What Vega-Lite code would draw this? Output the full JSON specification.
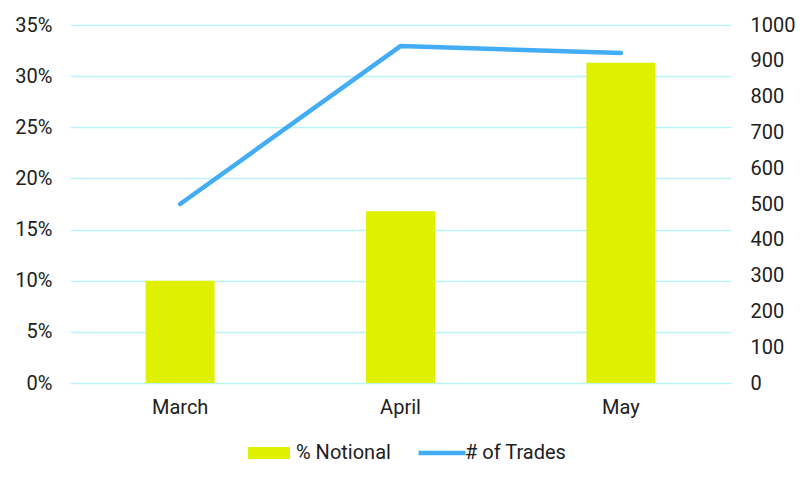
{
  "$schema": "https://vega.github.io/schema/vega-lite/v6.json",
  "width": 661,
  "height": 358,
  "autosize": {"type": "none"},
  "padding": {"left": 70, "top": 25, "right": 79, "bottom": 103},
  "background": "white",
  "config": {
    "font": "Roboto",
    "view": {"stroke": null},
    "axis": {"labelFont": "Roboto", "labelFontSize": 20, "labelColor": "#212121", "domain": false, "ticks": false, "title": null},
    "legend": {"labelFont": "Roboto", "labelFontSize": 20, "labelColor": "#212121", "padding": 0}
  },
  "data": {
    "values": [
      {"month": "March", "notional": 0.100, "trades": 500},
      {"month": "April", "notional": 0.168, "trades": 941},
      {"month": "May", "notional": 0.313, "trades": 922}
    ]
  },
  "encoding": {
    "x": {
      "field": "month", "type": "nominal", "sort": null,
      "scale": {"paddingInner": 0.687, "paddingOuter": 0.3435},
      "axis": {"labelAngle": 0, "labelPadding": 14, "grid": false}
    }
  },
  "layer": [
    {
      "mark": {"type": "bar", "color": "#dff000"},
      "encoding": {
        "y": {
          "field": "notional", "type": "quantitative",
          "scale": {"domain": [0, 0.35]},
          "axis": {"format": ".0%", "values": [0, 0.05, 0.1, 0.15, 0.2, 0.25, 0.3, 0.35], "grid": true, "gridColor": "#bdf2fa", "gridWidth": 1.5, "labelPadding": 18}
        },
        "fill": {
          "datum": "% Notional", "type": "nominal",
          "scale": {"range": ["#dff000"]},
          "legend": {"orient": "none", "legendX": 178, "legendY": 407, "title": null, "symbolType": "M-1,-0.28H1V0.28H-1Z", "symbolSize": 1764, "symbolStrokeWidth": 0, "labelOffset": 6}
        }
      }
    },
    {
      "mark": {"type": "line", "color": "#42acf5", "strokeWidth": 4.5, "strokeCap": "round", "strokeJoin": "round"},
      "encoding": {
        "y": {
          "field": "trades", "type": "quantitative",
          "scale": {"domain": [0, 1000]},
          "axis": {"orient": "right", "format": "d", "values": [0, 100, 200, 300, 400, 500, 600, 700, 800, 900, 1000], "grid": false, "labelPadding": 19}
        },
        "stroke": {
          "datum": "# of Trades", "type": "nominal",
          "scale": {"range": ["#42acf5"]},
          "legend": {"orient": "none", "legendX": 346, "legendY": 402, "title": null, "symbolType": "stroke", "symbolSize": 2209, "symbolStrokeWidth": 4.5, "labelOffset": -3}
        }
      }
    }
  ],
  "resolve": {"scale": {"y": "independent", "fill": "independent", "stroke": "independent"}}
}
